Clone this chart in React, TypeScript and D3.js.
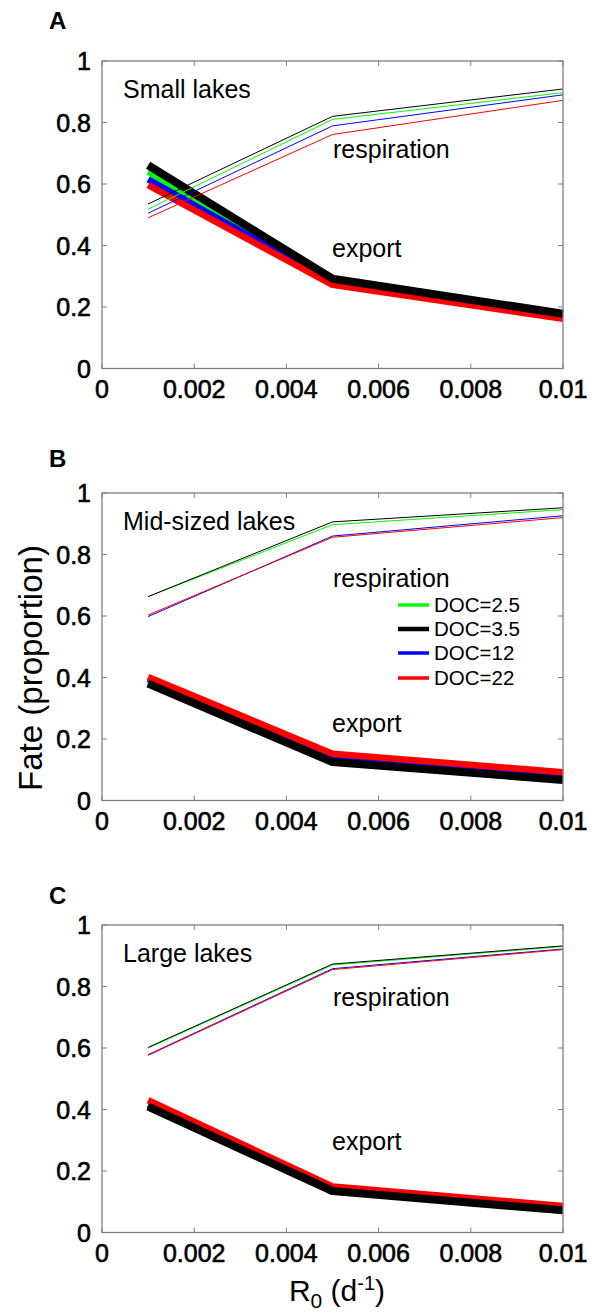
import React, { useEffect, useRef } from "react";
import * as d3 from "d3";

// x positions of the model runs (R0, d^-1)
const r0Values = [0.001, 0.005, 0.01];

const xTicks = [0, 0.002, 0.004, 0.006, 0.008, 0.01];
const xTickLabels = ["0", "0.002", "0.004", "0.006", "0.008", "0.01"];
const yTicks = [0, 0.2, 0.4, 0.6, 0.8, 1];
const yTickLabels = ["0", "0.2", "0.4", "0.6", "0.8", "1"];

const docLabels = ["DOC=2.5", "DOC=3.5", "DOC=12", "DOC=22"];
const docColors = ["#00ff00", "#000000", "#0000ff", "#ff0000"];

// one row per DOC level, same order as docLabels
const smallRespiration = [
  [0.518, 0.81, 0.897],
  [0.535, 0.82, 0.909],
  [0.505, 0.789, 0.89],
  [0.49, 0.761, 0.872],
];
const smallExport = [
  [0.64, 0.285, 0.172],
  [0.661, 0.292, 0.178],
  [0.615, 0.28, 0.168],
  [0.596, 0.272, 0.162],
];

const midRespiration = [
  [0.663, 0.897, 0.946],
  [0.663, 0.906, 0.952],
  [0.598, 0.86, 0.926],
  [0.603, 0.856, 0.92],
];
const midExport = [
  [0.385, 0.136, 0.08],
  [0.38, 0.125, 0.067],
  [0.395, 0.142, 0.083],
  [0.402, 0.152, 0.092],
];

const largeRespiration = [
  [0.6, 0.87, 0.93],
  [0.602, 0.873, 0.932],
  [0.578, 0.858, 0.922],
  [0.576, 0.855, 0.92],
];
const largeExport = [
  [0.41, 0.138, 0.074],
  [0.409, 0.135, 0.072],
  [0.415, 0.145, 0.08],
  [0.43, 0.15, 0.086],
];

const panelLetters = ["A", "B", "C"];
const panelNames = ["Small lakes", "Mid-sized lakes", "Large lakes"];

const FONT = "'Liberation Sans', Arial, Helvetica, sans-serif";

export default function App() {
  const svgRef = useRef<SVGSVGElement | null>(null);

  useEffect(() => {
    if (!svgRef.current) return;
    const root = d3.select(svgRef.current);
    root.selectAll("*").remove();

    const W = 592;
    const H = 1313;
    root.attr("width", W).attr("height", H).attr("viewBox", `0 0 ${W} ${H}`);

    const left = 102;
    const right = 563;
    const plotH = 307.5;

    const panels = [
      { top: 61, resp: smallRespiration, exp: smallExport, letterY: 29, respY: 158, expY: 257, legend: false },
      { top: 493, resp: midRespiration, exp: midExport, letterY: 467, respY: 587, expY: 732, legend: true },
      { top: 925, resp: largeRespiration, exp: largeExport, letterY: 904, respY: 1006, expY: 1150, legend: false },
    ];

    const x = d3.scaleLinear().domain([0, 0.01]).range([left, right]);
    const drawOrder = [0, 2, 3, 1]; // green, blue, red, black on top

    panels.forEach((p, i) => {
      const y = d3.scaleLinear().domain([0, 1]).range([p.top + plotH, p.top]);
      const g = root.append("g");

      const line = d3
        .line<number>()
        .x((_, k) => x(r0Values[k]))
        .y((d) => y(d));

      // thick export lines
      drawOrder.forEach((s) => {
        g.append("path")
          .datum(p.exp[s])
          .attr("fill", "none")
          .attr("stroke", docColors[s])
          .attr("stroke-width", s === 1 ? 8 : 6.5)
          .attr("stroke-linejoin", "round")
          .attr("d", line);
      });

      // thin respiration lines
      drawOrder.forEach((s) => {
        g.append("path")
          .datum(p.resp[s])
          .attr("fill", "none")
          .attr("stroke", docColors[s])
          .attr("stroke-width", 1)
          .attr("d", line);
      });

      // box + inward ticks on all sides
      const axisColor = "#808080";
      g.append("rect")
        .attr("x", left)
        .attr("y", p.top)
        .attr("width", right - left)
        .attr("height", plotH)
        .attr("fill", "none")
        .attr("stroke", axisColor)
        .attr("stroke-width", 1.3);

      const tl = 5;
      xTicks.forEach((t) => {
        g.append("line")
          .attr("x1", x(t)).attr("x2", x(t))
          .attr("y1", p.top + plotH).attr("y2", p.top + plotH - tl)
          .attr("stroke", axisColor);
        g.append("line")
          .attr("x1", x(t)).attr("x2", x(t))
          .attr("y1", p.top).attr("y2", p.top + tl)
          .attr("stroke", axisColor);
      });
      yTicks.forEach((t) => {
        g.append("line")
          .attr("x1", left).attr("x2", left + tl)
          .attr("y1", y(t)).attr("y2", y(t))
          .attr("stroke", axisColor);
        g.append("line")
          .attr("x1", right).attr("x2", right - tl)
          .attr("y1", y(t)).attr("y2", y(t))
          .attr("stroke", axisColor);
      });

      // tick labels (medium weight look)
      xTicks.forEach((t, k) => {
        g.append("text")
          .attr("x", x(t))
          .attr("y", p.top + plotH + 29)
          .attr("text-anchor", "middle")
          .attr("font-family", FONT)
          .attr("font-size", 25)
          .attr("stroke", "#000")
          .attr("stroke-width", 0.6)
          .text(xTickLabels[k]);
      });
      yTicks.forEach((t, k) => {
        g.append("text")
          .attr("x", 91)
          .attr("y", y(t) + 9)
          .attr("text-anchor", "end")
          .attr("font-family", FONT)
          .attr("font-size", 25)
          .attr("stroke", "#000")
          .attr("stroke-width", 0.6)
          .text(yTickLabels[k]);
      });

      // panel letter and annotations
      g.append("text")
        .attr("x", 49)
        .attr("y", p.letterY)
        .attr("font-family", FONT)
        .attr("font-size", 24)
        .attr("font-weight", "bold")
        .text(panelLetters[i]);

      g.append("text")
        .attr("x", 123)
        .attr("y", p.top + 37)
        .attr("font-family", FONT)
        .attr("font-size", 25)
        .text(panelNames[i]);

      g.append("text")
        .attr("x", 333)
        .attr("y", p.respY)
        .attr("font-family", FONT)
        .attr("font-size", 25)
        .text("respiration");

      g.append("text")
        .attr("x", 332)
        .attr("y", p.expY)
        .attr("font-family", FONT)
        .attr("font-size", 25)
        .text("export");

      if (p.legend) {
        const rowY = [605, 629, 653, 678];
        docLabels.forEach((lab, k) => {
          g.append("line")
            .attr("x1", 398).attr("x2", 429)
            .attr("y1", rowY[k]).attr("y2", rowY[k])
            .attr("stroke", docColors[k])
            .attr("stroke-width", k === 1 ? 4.5 : 3.5);
          g.append("text")
            .attr("x", 434)
            .attr("y", rowY[k] + 7)
            .attr("font-family", FONT)
            .attr("font-size", 20.5)
            .text(lab);
        });
      }
    });

    // shared y label
    root.append("text")
      .attr("transform", "translate(42, 668) rotate(-90)")
      .attr("text-anchor", "middle")
      .attr("font-family", FONT)
      .attr("font-size", 33)
      .text("Fate (proportion)");

    // x label R0 (d-1)
    const xl = root.append("text")
      .attr("x", 337)
      .attr("y", 1301)
      .attr("text-anchor", "middle")
      .attr("font-family", FONT)
      .attr("font-size", 30);
    xl.append("tspan").text("R");
    xl.append("tspan").attr("dy", 7).attr("font-size", 21).text("0");
    xl.append("tspan").attr("dy", -7).text(" (d");
    xl.append("tspan").attr("dy", -11).attr("font-size", 20).text("-1");
    xl.append("tspan").attr("dy", 11).text(")");
  }, []);

  return (
    <svg
      ref={svgRef}
      style={{ position: "absolute", left: 0, top: 0, background: "#fff" }}
    />
  );
}
